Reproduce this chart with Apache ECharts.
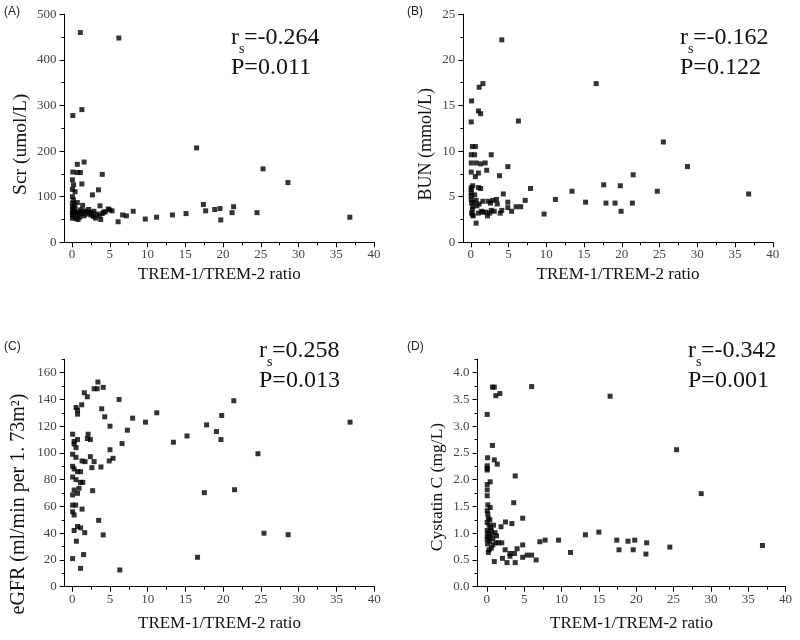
<!DOCTYPE html>
<html><head><meta charset="utf-8">
<script src="https://cdn.jsdelivr.net/npm/echarts@6/dist/echarts.min.js"></script>
<style>html,body{margin:0;padding:0;background:#fff}#c{width:800px;height:640px}</style>
</head><body><div id="c"></div>
<script>
// ---------- texts ----------
const xTitle = 'TREM-1/TREM-2 ratio';
const yTitles = ['Scr (umol/L)', 'BUN (mmol/L)', 'eGFR (ml/min per 1. 73m\u00B2)', 'Cystatin C (mg/L)'];
const panelLetters = ['(A)', '(B)', '(C)', '(D)'];
const rsLabels = ['-0.264', '-0.162', '0.258', '-0.342'];
const pLabels = ['0.011', '0.122', '0.013', '0.001'];

// ---------- tick values ----------
const xTicks = [0, 5, 10, 15, 20, 25, 30, 35, 40];
const xMinorTicks = [2.5, 7.5, 12.5, 17.5, 22.5, 27.5, 32.5, 37.5];
const scrTicks = [0, 100, 200, 300, 400, 500];
const scrMinorTicks = [50, 150, 250, 350, 450];
const bunTicks = [0, 5, 10, 15, 20, 25];
const bunMinorTicks = [2.5, 7.5, 12.5, 17.5, 22.5];
const egfrTicks = [0, 20, 40, 60, 80, 100, 120, 140, 160];
const egfrMinorTicks = [10, 30, 50, 70, 90, 110, 130, 150, 170];
const cysTicks = [0, 0.5, 1.0, 1.5, 2.0, 2.5, 3.0, 3.5, 4.0];
const cysMinorTicks = [0.25, 0.75, 1.25, 1.75, 2.25, 2.75, 3.25, 3.75, 4.25];

// ---------- data: [TREM-1/TREM-2 ratio, value] ----------
const scrData = [
  [1.1,460],[6.2,448],[0.1,278],[1.3,291],[16.5,207],[25.3,161],[28.6,131],
  [15.1,63],[17.4,83],[17.7,69],[18.9,72],[19.6,74],[19.7,49],[21.2,65],[21.4,78],[24.5,65],[36.8,55],
  [13.3,60],[11.2,55],[9.7,51],[8.1,68],[7.2,58],[6.7,60],[6.1,45],[5.3,69],[4.8,73],[4.2,66],[3.8,50],
  [3.7,80],[3.5,115],[4.0,149],[2.7,104],[1.6,176],[0.7,171],[1.3,128],[1.1,153],[0.1,154],[0.7,153],
  [0.05,137],[0.2,126],[0.05,116],[0.4,111],[0.05,100],[0.2,93],[0.05,86],[0.7,87],[1.4,81],
  [0.05,78],[0.1,72],[0.3,68],[0.05,62],[0.2,57],[0.05,53],[0.5,52],[0.7,60],[0.9,66],[1.1,71],[1.3,63],
  [1.6,58],[1.8,68],[2.0,62],[2.3,66],[2.5,60],[2.8,57],[3.1,53],[3.3,62],[1.0,55],[0.4,75],[2.2,72],
  [0.8,50],[0.3,82],[2.6,64],[4.4,67],[5.0,71],[2.9,68],[0.6,64],[1.5,69],[0.05,66],[3.6,58],[4.0,63]
];
const bunData = [
  [4.1,22.2],[1.1,17.0],[1.6,17.4],[0.1,15.5],[1.0,14.4],[1.3,14.1],[0.05,13.2],[6.3,13.3],[16.6,17.4],
  [0.2,10.5],[0.6,10.5],[0.05,9.6],[0.5,9.6],[2.7,9.6],[0.05,8.7],[0.7,8.7],[1.3,8.6],[1.9,8.7],[4.9,8.3],
  [2.1,7.9],[0.05,7.7],[1.0,7.6],[3.8,7.3],[0.6,7.2],[0.05,6.0],[1.0,6.0],[1.3,5.9],[7.9,5.9],[4.3,5.3],
  [13.4,5.6],[11.2,4.7],[15.2,4.4],[7.2,4.6],[4.9,4.4],[9.7,3.1],[0.7,2.1],[5.4,3.4],[6.0,3.9],[6.6,3.9],
  [4.9,3.8],[3.5,4.2],[4.1,3.5],
  [25.5,11.0],[28.7,8.3],[21.5,7.4],[17.6,6.3],[19.8,6.2],[24.7,5.6],[36.8,5.3],[17.9,4.3],[19.1,4.3],
  [21.4,4.3],[19.9,3.4],
  [0.05,4.7],[0.7,4.6],[1.6,4.5],[2.3,4.5],[2.9,4.6],[3.4,4.7],[0.05,5.4],[0.5,5.2],[0.25,6.2],[3.9,3.2],
  [3.1,3.4],[2.2,2.9],[1.4,3.4],[0.25,3.0],[0.25,3.9],[0.8,4.0],[0.05,5.8],[0.05,5.1],[0.1,4.3],[0.2,3.6],
  [0.1,3.2],[0.3,2.9],[1.0,3.2],[1.6,3.3],[2.0,3.3],[2.5,3.2],[2.7,3.5],[1.1,4.2],[0.4,4.4],[2.6,4.3]
];
const egfrData = [
  [3.4,153],[2.9,148],[3.3,148],[4.1,149],[1.6,145],[2.0,142],[6.2,140],[1.25,136],[0.5,134],[0.7,132],
  [0.7,129],[3.9,133],[4.3,127],[8.0,126],[11.2,130],[9.7,123],[5.0,120],[7.3,117],[0.05,114],[2.1,114],
  [15.2,112.7],[13.4,108],[6.6,107],[0.7,110],[0.25,108.6],[2.0,110.8],[2.4,110],[0.25,106.7],[0.5,104],
  [5.0,102.4],[0.05,99],[0.5,96.7],[2.4,97.2],[5.4,96],[4.9,94],[1.3,94],[1.7,93.5],[2.9,93.5],[0.05,90],
  [2.6,89],[3.8,89.5],[0.25,88],[0.7,86],[1.1,86],[0.05,82],[0.5,80],[1.1,78],[1.4,78],[0.9,73.6],
  [0.25,72.3],[0.7,69.8],[2.7,71.8],[0.05,68.6],[0.05,61],[0.45,61],[0.05,56],[0.25,53.6],[1.3,58],
  [3.5,49.6],[0.7,45],[1.1,44],[0.25,42],[1.65,40.4],[4.1,38.7],[0.55,34],[0.05,21],[1.5,24],[1.1,13.7],
  [6.3,12.5],
  [21.4,139],[19.8,128],[36.8,123],[17.8,121],[19.1,116],[19.7,110],[24.6,99.4],[17.5,70.3],[21.5,72.5],
  [25.4,40],[28.6,38.9],[16.6,22]
];
const cysData = [
  [0.75,3.73],[1.0,3.73],[6.0,3.74],[1.2,3.57],[1.74,3.61],[0.05,3.22],[0.75,2.64],[0.1,2.41],[1.0,2.37],
  [1.4,2.29],[0.05,2.26],[0.05,2.21],[0.05,2.18],[3.8,2.07],[0.05,1.91],[0.05,1.81],[0.05,1.70],[0.45,1.96],
  [0.13,1.53],[0.45,1.48],[3.6,1.57],[0.05,1.42],[0.13,1.36],[4.8,1.28],[2.5,1.21],[3.35,1.18],[1.9,1.12],
  [1.1,1.01],[7.8,0.87],[7.1,0.84],[9.6,0.87],[11.2,0.64],[4.8,0.78],[4.05,0.71],[1.2,0.82],[1.55,0.82],
  [2.0,0.82],[2.45,0.69],[3.1,0.62],[3.7,0.62],[3.1,0.57],[2.1,0.53],[4.8,0.55],[5.4,0.59],[6.0,0.59],
  [6.6,0.5],[1.0,0.47],[2.7,0.45],[3.8,0.45],[0.2,0.64],[0.3,0.69],[13.2,0.97],[15.0,1.02],
  [16.5,3.56],[25.4,2.56],[28.7,1.74],[17.4,0.87],[17.7,0.69],[18.9,0.85],[19.8,0.87],[19.6,0.69],
  [21.4,0.82],[21.3,0.61],[24.5,0.74],[36.9,0.77],
  [0.05,1.2],[0.3,1.15],[0.5,1.1],[0.05,1.05],[0.2,1.0],[0.6,0.98],[0.05,0.95],[0.3,0.92],[0.8,0.9],
  [0.05,0.88],[0.4,0.85],[0.1,0.8],[0.6,1.05],[0.9,1.15],[0.4,1.25],[0.2,1.28],[1.3,0.95],[0.8,0.78],[0.6,0.72]
];

// ---------- layout ----------
const SERIF = '"Liberation Serif","Times New Roman",serif';
const panels = [
  {grid:{left:64.5,top:14.3,width:309.5,height:228}, xMin:-1, yMax:500, yTicks:scrTicks, yMinor:scrMinorTicks, data:scrData, fmt:v=>String(v),
   yNameGap:34, yNameShift:32, yNameSize:19.5, xNameGap:24, ann:[231,50], letter:[4,6]},
  {grid:{left:463.3,top:14.3,width:309.5,height:228}, xMin:-1, yMax:25, yTicks:bunTicks, yMinor:bunMinorTicks, data:bunData, fmt:v=>String(v),
   yNameGap:28, yNameShift:32, yNameSize:18, xNameGap:24, ann:[680,50], letter:[407,6]},
  {grid:{left:64.7,top:359.3,width:309.5,height:227.4}, xMin:-1, yMax:170, yTicks:egfrTicks, yMinor:egfrMinorTicks, data:egfrData, fmt:v=>String(v),
   yNameGap:36, yNameShift:62, yNameSize:20, xNameGap:28, ann:[259,363], letter:[4,341]},
  {grid:{left:477.5,top:359.3,width:308.1,height:227.4}, xMin:-1.25, yMax:4.25, yTicks:cysTicks, yMinor:cysMinorTicks, data:cysData, fmt:v=>v.toFixed(1),
   yNameGap:31, yNameShift:28, yNameSize:17.5, xNameGap:28, ann:[688,363], letter:[407,341]}
];

const grids = [], xAxes = [], yAxes = [], series = [], graphics = [];
const lineStyle = {color:'#000', width:1};
const labelStyle = {color:'#444', fontFamily:SERIF, fontSize:13};
panels.forEach((p, i) => {
  grids.push(p.grid);
  xAxes.push({
    type:'value', gridIndex:i, min:p.xMin, max:40, position:'bottom',
    name:xTitle, nameLocation:'middle', nameGap:p.xNameGap,
    nameTextStyle:{color:'#111', fontFamily:SERIF, fontSize:17},
    axisLine:{show:true, onZero:false, lineStyle},
    axisTick:{show:true, inside:false, length:5, lineStyle, customValues:xTicks},
    axisLabel:{...labelStyle, margin:6, customValues:xTicks, formatter:v=>String(v)},
    splitLine:{show:false}
  });
  xAxes.push({
    type:'value', gridIndex:i, min:p.xMin, max:40, position:'bottom',
    axisLine:{show:true, onZero:false, lineStyle}, axisLabel:{show:false}, splitLine:{show:false},
    axisTick:{show:true, inside:false, length:3, lineStyle, customValues:xMinorTicks}
  });
  yAxes.push({
    type:'value', gridIndex:i, min:0, max:p.yMax, position:'left',
    name:yTitles[i], nameLocation:'middle', nameGap:p.yNameGap,
    nameTextStyle:{color:'#111', fontFamily:SERIF, fontSize:p.yNameSize, padding:[0, p.yNameShift, 0, 0]},
    axisLine:{show:true, onZero:false, lineStyle},
    axisTick:{show:true, inside:false, length:5, lineStyle, customValues:p.yTicks},
    axisLabel:{...labelStyle, margin:8, customValues:p.yTicks, formatter:p.fmt},
    splitLine:{show:false}
  });
  yAxes.push({
    type:'value', gridIndex:i, min:0, max:p.yMax, position:'left',
    axisLine:{show:true, onZero:false, lineStyle}, axisLabel:{show:false}, splitLine:{show:false},
    axisTick:{show:true, inside:false, length:3, lineStyle, customValues:p.yMinor}
  });
  series.push({
    type:'scatter', xAxisIndex:2*i, yAxisIndex:2*i, data:p.data,
    symbol:'rect', symbolSize:5, itemStyle:{color:'#000'}, silent:true
  });
  const [ax, ay] = p.ann;
  graphics.push(
    {type:'text', left:p.letter[0], top:p.letter[1], style:{text:panelLetters[i], font:'12px "Liberation Sans",Arial,sans-serif', fill:'#222'}},
    {type:'text', x:ax, y:ay, style:{text:'r', font:'24px '+SERIF, fill:'#111', textVerticalAlign:'bottom'}},
    {type:'text', x:ax+8, y:ay+6, style:{text:'s', font:'14px '+SERIF, fill:'#111', textVerticalAlign:'bottom'}},
    {type:'text', x:ax+13, y:ay, style:{text:'='+rsLabels[i], font:'24px '+SERIF, fill:'#111', textVerticalAlign:'bottom'}},
    {type:'text', x:ax, y:ay+30, style:{text:'P='+pLabels[i], font:'24px '+SERIF, fill:'#111', textVerticalAlign:'bottom'}}
  );
});

const chart = echarts.init(document.getElementById('c'), null, {renderer:'canvas'});
chart.setOption({
  animation:false, backgroundColor:'#fff',
  grid:grids, xAxis:xAxes, yAxis:yAxes, series, graphic:graphics
});
</script></body></html>
